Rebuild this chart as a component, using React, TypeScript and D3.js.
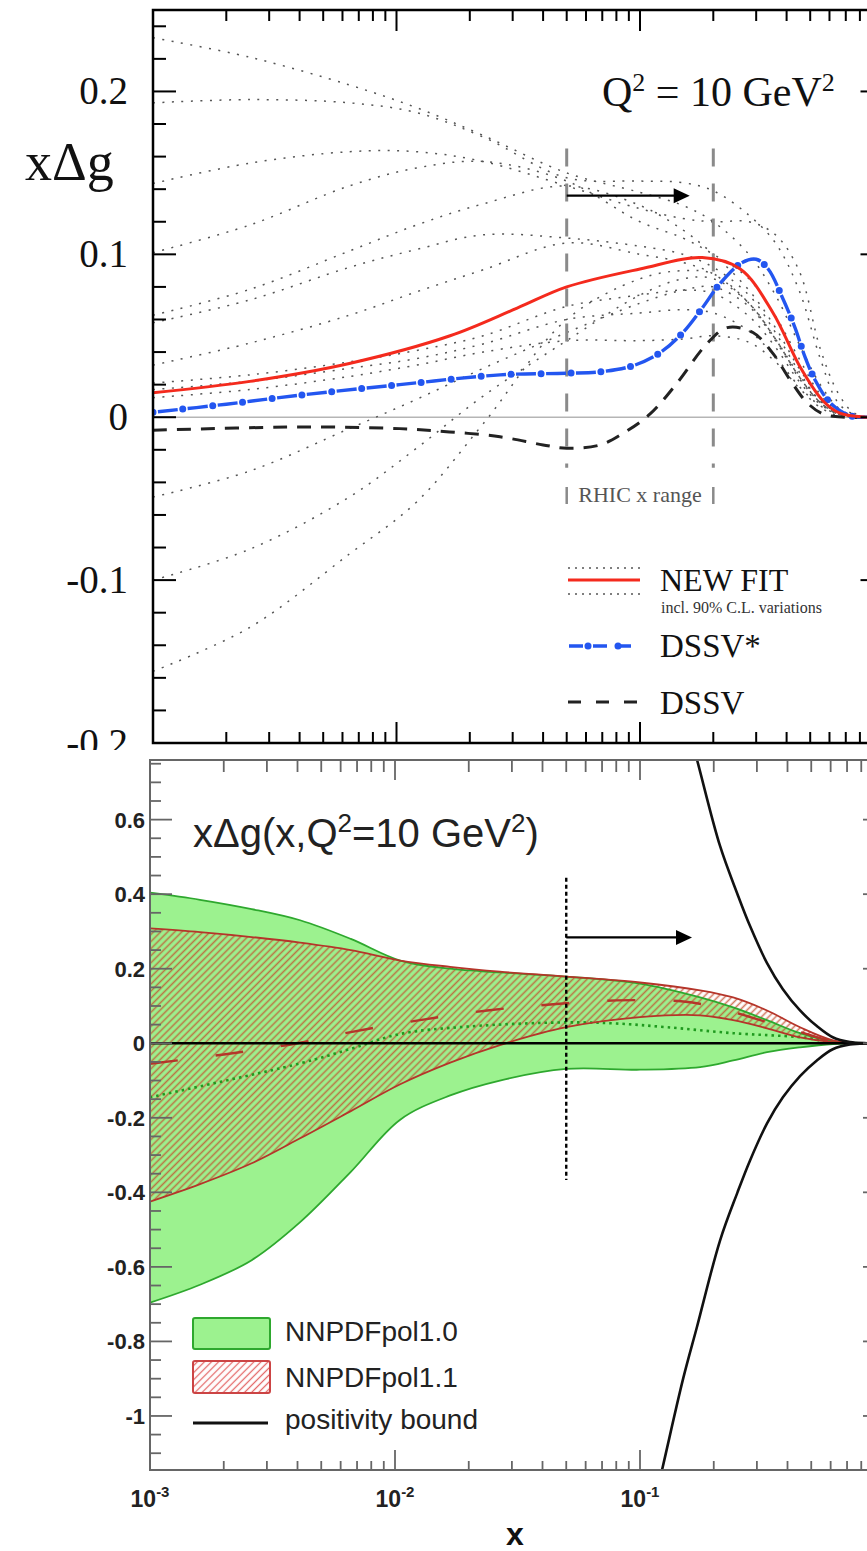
import React from "react";
import * as d3 from "d3";

const W = 867;
const H = 1551;

// ---------- upper panel: xΔg at Q² = 10 GeV² ----------
const fitX = [0.001, 0.0025, 0.0064, 0.0166, 0.0313, 0.05, 0.1, 0.18, 0.258, 0.352, 0.454, 0.565, 0.662, 0.855, 1];
const fitY = [0.015, 0.022, 0.033, 0.05, 0.067, 0.08, 0.091, 0.098, 0.091, 0.064, 0.031, 0.01, 0.0025, 0, 0];

const dssvStarX = [0.001, 0.002, 0.004, 0.0103, 0.0266, 0.05, 0.07, 0.0953, 0.122, 0.15, 0.18, 0.213, 0.263, 0.3, 0.336, 0.383, 0.433, 0.476, 0.523, 0.603, 0.728, 0.855, 1];
const dssvStarY = [0.003, 0.008, 0.0135, 0.02, 0.026, 0.027, 0.028, 0.032, 0.04, 0.052, 0.067, 0.082, 0.095, 0.097, 0.091, 0.074, 0.055, 0.037, 0.023, 0.009, 0.001, 0, 0];

const dssvX = [0.001, 0.004, 0.0103, 0.0165, 0.0266, 0.04, 0.05, 0.0686, 0.085, 0.11, 0.142, 0.188, 0.228, 0.291, 0.352, 0.413, 0.485, 0.565, 0.7, 0.855, 1];
const dssvY = [-0.008, -0.006, -0.007, -0.009, -0.012, -0.017, -0.019, -0.017, -0.01, 0.002, 0.021, 0.045, 0.055, 0.052, 0.039, 0.023, 0.009, 0.002, 0, 0, 0];

// 90% C.L. variations of the new fit, on a common x grid
const varX = [0.001, 0.0025, 0.0064, 0.0121, 0.0227, 0.05, 0.1, 0.15, 0.2, 0.28, 0.36, 0.45, 0.55, 0.65, 0.75, 0.87, 1];
const varA = [0.233, 0.221, 0.204, 0.19, 0.173, 0.15, 0.138, 0.13, 0.12, 0.1, 0.075, 0.045, 0.02, 0.006, 0.001, 0, 0];
const varB = [0.193, 0.195, 0.193, 0.187, 0.172, 0.147, 0.145, 0.144, 0.139, 0.124, 0.107, 0.078, 0.036, 0.009, 0.002, 0, 0];
const varC = [0.1435, 0.156, 0.163, 0.163, 0.157, 0.142, 0.128, 0.122, 0.12, 0.12, 0.112, 0.09, 0.042, 0.015, 0.003, 0, 0];
const varD = [0.101, 0.118, 0.142, 0.153, 0.157, 0.145, 0.12, 0.11, 0.1, 0.085, 0.062, 0.036, 0.014, 0.004, 0.001, 0, 0];
const varE = [0.0626, 0.0785, 0.102, 0.118, 0.131, 0.142, 0.13, 0.115, 0.1, 0.078, 0.055, 0.03, 0.012, 0.003, 0.001, 0, 0];
const varF = [0.058, 0.072, 0.092, 0.103, 0.112, 0.11, 0.105, 0.1, 0.092, 0.075, 0.052, 0.028, 0.01, 0.003, 0.001, 0, 0];
const varG = [0.032, 0.0455, 0.0626, 0.077, 0.0905, 0.107, 0.1, 0.095, 0.088, 0.07, 0.048, 0.026, 0.01, 0.003, 0.001, 0, 0];
const varH = [0.021, 0.026, 0.034, 0.041, 0.05, 0.068, 0.075, 0.078, 0.076, 0.062, 0.043, 0.022, 0.008, 0.002, 0, 0, 0];
const varI = [0.017, 0.022, 0.03, 0.036, 0.045, 0.06, 0.064, 0.066, 0.064, 0.053, 0.037, 0.019, 0.007, 0.002, 0, 0, 0];
const varJ = [0.012, 0.017, 0.025, 0.032, 0.04, 0.047, 0.047, 0.048, 0.05, 0.046, 0.034, 0.018, 0.006, 0.001, 0, 0, 0];
const varK = [-0.049, -0.033, -0.007, 0.011, 0.03, 0.052, 0.07, 0.078, 0.08, 0.068, 0.047, 0.024, 0.009, 0.002, 0, 0, 0];
const varL = [-0.1, -0.081, -0.049, -0.019, 0.013, 0.047, 0.075, 0.085, 0.085, 0.07, 0.048, 0.025, 0.009, 0.002, 0, 0, 0];
const varM = [-0.156, -0.129, -0.084, -0.052, -0.004, 0.06, 0.085, 0.09, 0.088, 0.07, 0.048, 0.025, 0.009, 0.002, 0, 0, 0];
const variations = [varA, varB, varC, varD, varE, varF, varG, varH, varI, varJ, varK, varL, varM];

// RHIC kinematic range and arrow
const rhicRange = [0.05, 0.2];
const rhicLineY = [-0.031, 0.165];
const topArrow = { x0: 0.05, x1: 0.16, y: 0.136 };

// ---------- lower panel: NNPDFpol bands ----------
const bandX = [0.001, 0.0016, 0.0026, 0.0041, 0.0066, 0.0105, 0.0168, 0.0268, 0.05, 0.1, 0.176, 0.24, 0.33, 0.45, 0.614, 0.8, 1];
const pol10Up = [0.404, 0.385, 0.36, 0.33, 0.28, 0.222, 0.2, 0.19, 0.179, 0.16, 0.123, 0.096, 0.062, 0.027, 0.005, 0, 0];
const pol10Lo = [-0.696, -0.648, -0.582, -0.48, -0.345, -0.205, -0.14, -0.1, -0.069, -0.071, -0.064, -0.046, -0.024, -0.011, -0.002, 0, 0];
const pol11Up = [0.308, 0.298, 0.285, 0.27, 0.25, 0.222, 0.205, 0.192, 0.179, 0.163, 0.142, 0.123, 0.088, 0.043, 0.008, 0, 0];
const pol11Lo = [-0.425, -0.378, -0.322, -0.255, -0.182, -0.11, -0.052, -0.005, 0.043, 0.07, 0.075, 0.062, 0.04, 0.016, 0.003, 0, 0];

const pol11MidX = [0.001, 0.002, 0.004, 0.0066, 0.01265, 0.0238, 0.043, 0.0805, 0.15, 0.2, 0.3, 0.45, 0.6, 0.8, 1];
const pol11MidY = [-0.055, -0.03, 0, 0.03, 0.062, 0.088, 0.104, 0.115, 0.112, 0.098, 0.065, 0.03, 0.007, 0, 0];
const pol10MidX = [0.001, 0.0041, 0.0066, 0.0105, 0.02, 0.05, 0.08, 0.129, 0.24, 0.45, 0.614, 0.8, 1];
const pol10MidY = [-0.145, -0.054, -0.015, 0.025, 0.045, 0.056, 0.053, 0.043, 0.027, 0.016, 0.003, 0, 0];

// positivity bound |xΔg| <= xg
const boundX = [0.1, 0.123, 0.15, 0.171, 0.212, 0.25, 0.281, 0.33, 0.383, 0.45, 0.527, 0.612, 0.719, 0.85, 1];
const boundY = [1.4, 1.145, 0.9, 0.76, 0.53, 0.4, 0.315, 0.215, 0.145, 0.088, 0.046, 0.016, 0.003, 0, 0];

const lowMarker = { x: 0.05, y0: -0.367, y1: 0.444 };
const lowArrow = { x0: 0.05, x1: 0.163, y: 0.284 };
const lowXLabels = [-3, -2, -1];

const legendTop = ["NEW FIT", "DSSV*", "DSSV"];
const legendLow = ["NNPDFpol1.0", "NNPDFpol1.1", "positivity bound"];

// ---------- scales ----------
const xT = d3.scaleLog().domain([1e-3, 1]).range([153, 883.5]);
const yT = d3.scaleLinear().domain([-0.2, 0.25]).range([743, 10]);
const xB = d3.scaleLog().domain([1e-3, 1]).range([150, 885]);
const yB = d3.scaleLinear().domain([-1.145, 0.76]).range([1470, 760]);

type P = [number, number];
const zip = (xs: number[], ys: number[]): P[] => xs.map((x, i) => [x, ys[i]] as P);
const smooth = d3.curveCatmullRom.alpha(0.5);

const lineTop = d3.line<P>().x((d) => xT(d[0])).y((d) => yT(d[1])).curve(smooth);
const lineLow = d3.line<P>().x((d) => xB(d[0])).y((d) => yB(d[1])).curve(smooth);
const areaLow = (xs: number[], lo: number[], up: number[]) =>
  d3
    .area<number>()
    .x((_, i) => xB(xs[i]))
    .y0((_, i) => yB(lo[i]))
    .y1((_, i) => yB(up[i]))
    .curve(smooth)(xs) as string;

const isDecade = (t: number) => Math.abs(Math.log10(t) - Math.round(Math.log10(t))) < 1e-6;
const fmt = (v: number) => String(Math.round(v * 10) / 10);

const SERIF = "'Liberation Serif', 'Times New Roman', serif";
const SANS = "'Liberation Sans', Arial, Helvetica, sans-serif";
const BLUE = "#2356f0";
const RED = "#f42a1d";
const GREEN_FILL = "#9cf28f";
const GREEN_EDGE = "#2ea82e";
const BAND_RED = "#b5352a";

function TopPanel() {
  const [L, R] = xT.range();
  const [B, T] = yT.range();
  const xt = xT.ticks();
  const yMinor = yT.ticks(22);
  const yMajor = yT.ticks(5);
  return (
    <g>
      <defs>
        <clipPath id="clipTop">
          <rect x={L} y={T} width={R - L} height={B - T} />
        </clipPath>
      </defs>
      <g clipPath="url(#clipTop)">
        <line x1={L} x2={R} y1={yT(0)} y2={yT(0)} stroke="#b5b5b5" strokeWidth={1.6} />
        {variations.map((v, i) => (
          <path key={i} d={lineTop(zip(varX, v)) as string} fill="none" stroke="#555" strokeWidth={1.5} strokeDasharray="2 7.5" />
        ))}
        {rhicRange.map((x, i) => (
          <line key={i} x1={xT(x)} x2={xT(x)} y1={yT(rhicLineY[1])} y2={yT(rhicLineY[0])} stroke="#8a8a8a" strokeWidth={3} strokeDasharray="18 17" />
        ))}
        <path d={lineTop(zip(dssvX, dssvY)) as string} fill="none" stroke="#222" strokeWidth={3} strokeDasharray="14 10" />
        <path d={lineTop(zip(dssvStarX, dssvStarY)) as string} fill="none" stroke={BLUE} strokeWidth={3.4} strokeDasharray="20 10" strokeDashoffset={-5} />
        <path d={lineTop(zip(dssvStarX, dssvStarY)) as string} fill="none" stroke={BLUE} strokeWidth={7} strokeLinecap="round" strokeDasharray="0 30" />
        <path d={lineTop(zip(fitX, fitY)) as string} fill="none" stroke={RED} strokeWidth={3} />
      </g>

      {/* arrow over the RHIC range */}
      <line x1={xT(topArrow.x0)} x2={xT(topArrow.x1) - 14} y1={yT(topArrow.y)} y2={yT(topArrow.y)} stroke="#000" strokeWidth={2.2} />
      <polygon
        points={`${xT(topArrow.x1)},${yT(topArrow.y)} ${xT(topArrow.x1) - 16},${yT(topArrow.y) - 7.5} ${xT(topArrow.x1) - 16},${yT(topArrow.y) + 7.5}`}
        fill="#000"
      />
      <line x1={xT(rhicRange[0])} x2={xT(rhicRange[0])} y1={487} y2={504} stroke="#8a8a8a" strokeWidth={2.5} />
      <line x1={xT(rhicRange[1])} x2={xT(rhicRange[1])} y1={487} y2={504} stroke="#8a8a8a" strokeWidth={2.5} />
      <text x={(xT(rhicRange[0]) + xT(rhicRange[1])) / 2} y={502} textAnchor="middle" fontFamily={SERIF} fontSize={22} fill="#555">
        RHIC x range
      </text>

      {/* frame and ticks */}
      <rect x={L} y={T} width={R - L} height={B - T} fill="none" stroke="#000" strokeWidth={2.5} />
      {xt.map((t, i) => {
        const len = isDecade(t) ? 21 : 11;
        return (
          <g key={i} stroke="#000" strokeWidth={2}>
            <line x1={xT(t)} x2={xT(t)} y1={T} y2={T + len} />
            <line x1={xT(t)} x2={xT(t)} y1={B} y2={B - len} />
          </g>
        );
      })}
      {yMinor.map((t, i) => {
        const major = yMajor.some((m) => Math.abs(m - t) < 1e-9);
        const len = major ? 23 : 13;
        return (
          <g key={i} stroke="#000" strokeWidth={2}>
            <line x1={L} x2={L + len} y1={yT(t)} y2={yT(t)} />
            <line x1={R} x2={R - len} y1={yT(t)} y2={yT(t)} />
          </g>
        );
      })}
      {yMajor.map((t, i) => (
        <text key={i} x={128} y={yT(t) + 13} textAnchor="end" fontFamily={SERIF} fontSize={39} fill="#111">
          {fmt(t)}
        </text>
      ))}
      <text x={25} y={180} fontFamily={SERIF} fontSize={54} fill="#111">
        xΔg
      </text>
      <text x={602} y={106} fontFamily={SERIF} fontSize={42} fill="#111">
        Q<tspan dy={-15} fontSize={26}>2</tspan>
        <tspan dy={15}> = 10 GeV</tspan>
        <tspan dy={-15} fontSize={26}>2</tspan>
      </text>

      {/* legend */}
      <line x1={568} x2={640} y1={568} y2={568} stroke="#555" strokeWidth={1.5} strokeDasharray="2 5" />
      <line x1={568} x2={640} y1={580} y2={580} stroke={RED} strokeWidth={3} />
      <line x1={568} x2={640} y1={594} y2={594} stroke="#555" strokeWidth={1.5} strokeDasharray="2 5" />
      <text x={660} y={591} fontFamily={SERIF} fontSize={32} fill="#111">
        {legendTop[0]}
      </text>
      <text x={661} y={613} fontFamily={SERIF} fontSize={16} fill="#333">
        incl. 90% C.L. variations
      </text>
      <line x1={568} x2={640} y1={646} y2={646} stroke={BLUE} strokeWidth={3.4} strokeDasharray="14 10" strokeDashoffset={-1} />
      <line x1={588} x2={588} y1={646} y2={646} stroke={BLUE} strokeWidth={7} strokeLinecap="round" />
      <line x1={618} x2={618} y1={646} y2={646} stroke={BLUE} strokeWidth={7} strokeLinecap="round" />
      <text x={660} y={657} fontFamily={SERIF} fontSize={33} fill="#111">
        {legendTop[1]}
      </text>
      <line x1={568} x2={640} y1={702} y2={702} stroke="#222" strokeWidth={3} strokeDasharray="13 15" />
      <text x={660} y={714} fontFamily={SERIF} fontSize={33} fill="#111">
        {legendTop[2]}
      </text>
    </g>
  );
}

function LowPanel() {
  const [L, R] = xB.range();
  const [B, T] = yB.range();
  const xt = xB.ticks();
  const yMinor = yB.ticks(38);
  const yMajor = yB.ticks(10);
  const frame = "#666";
  return (
    <g>
      <rect x={0} y={750} width={W} height={H - 750} fill="#fff" />
      <defs>
        <clipPath id="clipLow">
          <rect x={L} y={T} width={R - L} height={B - T} />
        </clipPath>
        <pattern id="hatchBand" width={5} height={10} patternUnits="userSpaceOnUse" patternTransform="rotate(45)">
          <line x1={2.5} x2={2.5} y1={0} y2={10} stroke="#c24a2a" strokeOpacity={0.75} strokeWidth={1.6} />
        </pattern>
        <pattern id="hatchKey" width={5} height={10} patternUnits="userSpaceOnUse" patternTransform="rotate(45)">
          <line x1={2.5} x2={2.5} y1={0} y2={10} stroke="#e46a6a" strokeWidth={1.3} />
        </pattern>
      </defs>
      <g clipPath="url(#clipLow)">
        <path d={areaLow(bandX, pol10Lo, pol10Up)} fill={GREEN_FILL} />
        <path d={areaLow(bandX, pol11Lo, pol11Up)} fill="url(#hatchBand)" />
        <path d={lineLow(zip(bandX, pol10Up)) as string} fill="none" stroke={GREEN_EDGE} strokeWidth={1.8} />
        <path d={lineLow(zip(bandX, pol10Lo)) as string} fill="none" stroke={GREEN_EDGE} strokeWidth={1.8} />
        <path d={lineLow(zip(pol10MidX, pol10MidY)) as string} fill="none" stroke="#1f9a1f" strokeWidth={2.6} strokeDasharray="2.5 4" />
        <path d={lineLow(zip(bandX, pol11Up)) as string} fill="none" stroke={BAND_RED} strokeWidth={1.8} />
        <path d={lineLow(zip(bandX, pol11Lo)) as string} fill="none" stroke={BAND_RED} strokeWidth={1.8} />
        <path d={lineLow(zip(pol11MidX, pol11MidY)) as string} fill="none" stroke={BAND_RED} strokeWidth={2.4} strokeDasharray="28 38" />
        <line x1={L} x2={R} y1={yB(0)} y2={yB(0)} stroke="#000" strokeWidth={2.5} />
        <path d={lineLow(zip(boundX, boundY)) as string} fill="none" stroke="#111" strokeWidth={2.6} />
        <path d={lineLow(zip(boundX, boundY.map((v) => -v))) as string} fill="none" stroke="#111" strokeWidth={2.6} />
      </g>

      <line x1={xB(lowMarker.x)} x2={xB(lowMarker.x)} y1={yB(lowMarker.y1)} y2={yB(lowMarker.y0)} stroke="#000" strokeWidth={2.4} strokeDasharray="4 3" />
      <line x1={xB(lowArrow.x0)} x2={xB(lowArrow.x1) - 14} y1={yB(lowArrow.y)} y2={yB(lowArrow.y)} stroke="#000" strokeWidth={2.2} />
      <polygon
        points={`${xB(lowArrow.x1)},${yB(lowArrow.y)} ${xB(lowArrow.x1) - 16},${yB(lowArrow.y) - 7.5} ${xB(lowArrow.x1) - 16},${yB(lowArrow.y) + 7.5}`}
        fill="#000"
      />

      {/* frame and ticks */}
      <rect x={L} y={T} width={R - L} height={B - T} fill="none" stroke={frame} strokeWidth={2} />
      {xt.map((t, i) => (
        <g key={i} stroke={frame} strokeWidth={1.8}>
          <line x1={xB(t)} x2={xB(t)} y1={T} y2={T + (isDecade(t) ? 20 : 12)} />
          <line x1={xB(t)} x2={xB(t)} y1={B} y2={B - (isDecade(t) ? 20 : 9)} />
        </g>
      ))}
      {yMinor.map((t, i) => {
        const major = yMajor.some((m) => Math.abs(m - t) < 1e-9);
        const len = major ? 22 : 11;
        return (
          <g key={i} stroke={frame} strokeWidth={1.8}>
            <line x1={L} x2={L + len} y1={yB(t)} y2={yB(t)} />
            <line x1={R} x2={R - len} y1={yB(t)} y2={yB(t)} />
          </g>
        );
      })}
      {yMajor.map((t, i) => (
        <text key={i} x={145} y={yB(t) + 8} textAnchor="end" fontFamily={SANS} fontWeight="bold" fontSize={22} fill="#222">
          {fmt(t)}
        </text>
      ))}
      {lowXLabels.map((e, i) => (
        <text key={i} x={xB(Math.pow(10, e))} y={1507} textAnchor="middle" fontFamily={SANS} fontWeight="bold" fontSize={23} fill="#222">
          10<tspan dy={-10} fontSize={15}>{String(e)}</tspan>
        </text>
      ))}
      <text x={515} y={1545} textAnchor="middle" fontFamily={SANS} fontWeight="bold" fontSize={32} fill="#111">
        x
      </text>
      <text x={193} y={847} fontFamily={SANS} fontSize={40} fill="#222">
        xΔg(x,Q<tspan dy={-15} fontSize={26}>2</tspan>
        <tspan dy={15}>=10 GeV</tspan>
        <tspan dy={-15} fontSize={26}>2</tspan>
        <tspan dy={15}>)</tspan>
      </text>

      {/* legend */}
      <rect x={193} y={1318} width={77} height={31} rx={2} fill={GREEN_FILL} stroke={GREEN_EDGE} strokeWidth={2} />
      <rect x={193} y={1361} width={77} height={32} rx={2} fill="#fff" />
      <rect x={193} y={1361} width={77} height={32} rx={2} fill="url(#hatchKey)" stroke="#cc4444" strokeWidth={2} />
      <line x1={193} x2={268} y1={1423} y2={1423} stroke="#111" strokeWidth={3} />
      <text x={285} y={1341} fontFamily={SANS} fontSize={28} fill="#222">
        {legendLow[0]}
      </text>
      <text x={285} y={1387} fontFamily={SANS} fontSize={28} fill="#222">
        {legendLow[1]}
      </text>
      <text x={285} y={1429} fontFamily={SANS} fontSize={28} fill="#222">
        {legendLow[2]}
      </text>
    </g>
  );
}

export default function App() {
  return (
    <svg
      width={W}
      height={H}
      viewBox={`0 0 ${W} ${H}`}
      style={{ position: "absolute", left: 0, top: 0, background: "#fff" }}
    >
      <rect x={0} y={0} width={W} height={H} fill="#fff" />
      <TopPanel />
      <LowPanel />
    </svg>
  );
}
